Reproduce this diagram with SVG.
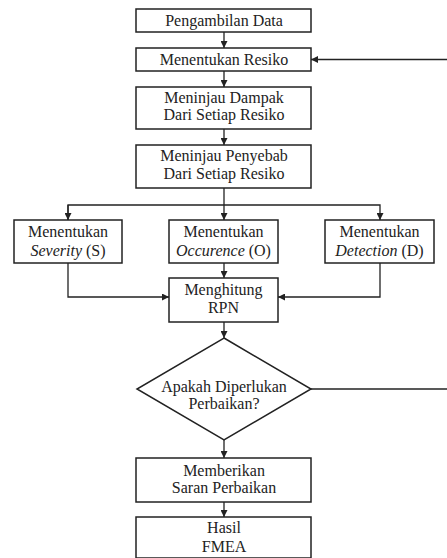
<svg xmlns="http://www.w3.org/2000/svg" width="447" height="558" viewBox="0 0 447 558">
<style>
.b{fill:#fff;stroke:#222;stroke-width:1.5}
.c{fill:none;stroke:#222;stroke-width:1.3}
text{font-family:"Liberation Serif","Times New Roman",serif;font-size:16px;fill:#222;text-anchor:middle}
.i{font-style:italic}
</style>
<defs>
<marker id="a" viewBox="0 0 10 10" refX="10" refY="5" markerWidth="7" markerHeight="7" markerUnits="userSpaceOnUse" orient="auto">
<path d="M0,0L10,5L0,10z" fill="#222"/>
</marker>
</defs>
<rect width="447" height="558" fill="#fff"/>
<g id="connectors">
<line class="c" x1="224" y1="32" x2="224" y2="48" marker-end="url(#a)"/>
<line class="c" x1="224" y1="71" x2="224" y2="87" marker-end="url(#a)"/>
<line class="c" x1="224" y1="129" x2="224" y2="145" marker-end="url(#a)"/>
<line class="c" x1="224" y1="188" x2="224" y2="220" marker-end="url(#a)"/>
<polyline class="c" points="68,220 68,205 380,205 380,220" marker-end="url(#a)"/>
<polyline class="c" points="68,205 68,220" marker-end="url(#a)"/>
<line class="c" x1="224" y1="263" x2="224" y2="278" marker-end="url(#a)"/>
<polyline class="c" points="68,263 68,297 169,297" marker-end="url(#a)"/>
<polyline class="c" points="380,263 380,297 278,297" marker-end="url(#a)"/>
<line class="c" x1="224" y1="322" x2="224" y2="338" marker-end="url(#a)"/>
<line class="c" x1="224" y1="440" x2="224" y2="458" marker-end="url(#a)"/>
<line class="c" x1="224" y1="502" x2="224" y2="517" marker-end="url(#a)"/>
<line class="c" x1="311" y1="389" x2="447" y2="389"/>
<line class="c" x1="447" y1="59.5" x2="311" y2="59.5" marker-end="url(#a)"/>
</g>
<g id="n1"><rect class="b" x="136" y="9" width="175" height="23"/><text x="224" y="25.5">Pengambilan Data</text></g>
<g id="n2"><rect class="b" x="136" y="48" width="175" height="23"/><text x="224" y="64.5">Menentukan Resiko</text></g>
<g id="n3"><rect class="b" x="136" y="87" width="175" height="42"/><text x="224" y="103">Meninjau Dampak</text><text x="224" y="120">Dari Setiap Resiko</text></g>
<g id="n4"><rect class="b" x="136" y="145" width="175" height="43"/><text x="224" y="161">Meninjau Penyebab</text><text x="224" y="178.5">Dari Setiap Resiko</text></g>
<g id="n5"><rect class="b" x="14" y="220" width="108" height="43"/><text x="68" y="237">Menentukan</text><text x="68" y="255.5"><tspan class="i">Severity</tspan> (S)</text></g>
<g id="n6"><rect class="b" x="169" y="220" width="109" height="43"/><text x="223.5" y="237">Menentukan</text><text x="223.5" y="255.5"><tspan class="i">Occurence</tspan> (O)</text></g>
<g id="n7"><rect class="b" x="325" y="220" width="109" height="43"/><text x="379.5" y="237">Menentukan</text><text x="379.5" y="255.5"><tspan class="i">Detection</tspan> (D)</text></g>
<g id="n8"><rect class="b" x="169" y="278" width="109" height="44"/><text x="223.5" y="295">Menghitung</text><text x="223.5" y="313">RPN</text></g>
<g id="n9"><polygon class="b" points="224,338 311,389 224,440 137,389"/><text x="224" y="392">Apakah Diperlukan</text><text x="224" y="409">Perbaikan?</text></g>
<g id="n10"><rect class="b" x="136" y="458" width="175" height="44"/><text x="224" y="475.5">Memberikan</text><text x="224" y="493">Saran Perbaikan</text></g>
<g id="n11"><rect class="b" x="136" y="517" width="175" height="41"/><text x="224" y="533">Hasil</text><text x="224" y="552">FMEA</text></g>
</svg>
